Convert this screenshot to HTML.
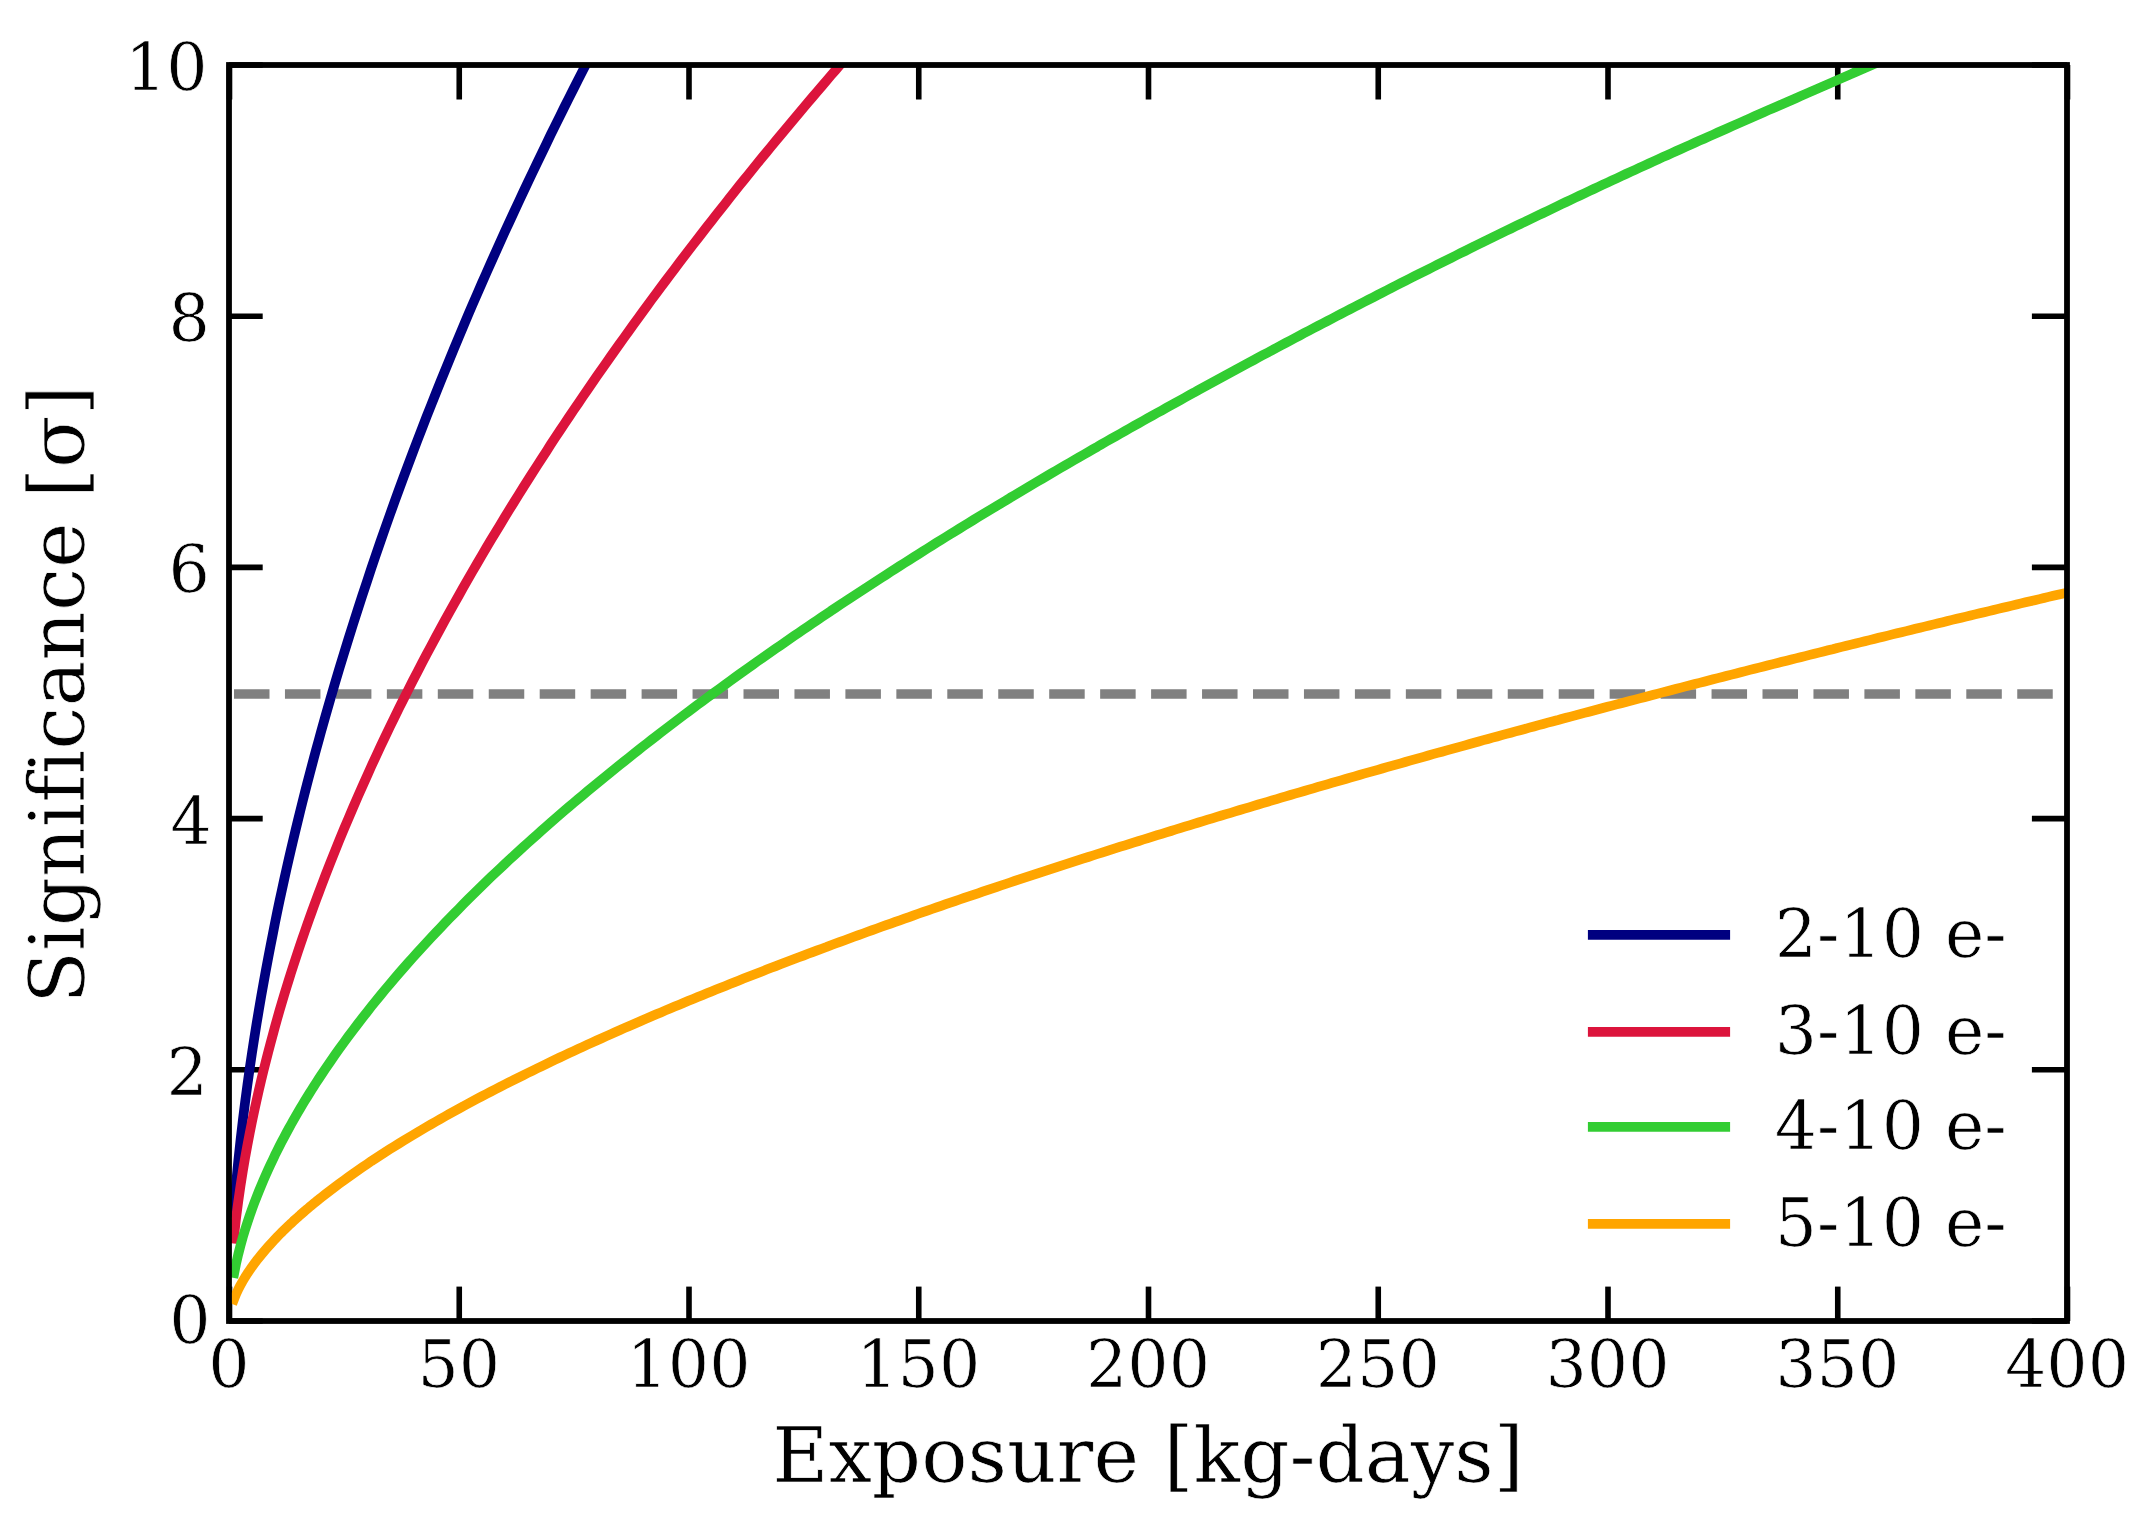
<!DOCTYPE html>
<html lang="en"><head><meta charset="utf-8"><title>Significance vs Exposure</title>
<style>
html,body{margin:0;padding:0;background:#fff;}
body{width:2150px;height:1516px;overflow:hidden;}
svg{display:block;}
text{font-family:"DejaVu Serif","Liberation Serif",serif;fill:#000;font-variant-ligatures:none;font-feature-settings:"liga" 0,"clig" 0;stroke:#fff;stroke-width:0.7px;paint-order:fill stroke;}
.tick{font-size:65.0px;}
.lab{font-size:77.0px;}
.leg{font-size:66.4px;}
</style></head><body>
<svg width="2150" height="1516" viewBox="0 0 2150 1516">
<rect x="0" y="0" width="2150" height="1516" fill="#ffffff"/>
<defs><clipPath id="ax"><rect x="229.0" y="65.0" width="1838.0" height="1256.0"/></clipPath></defs>

<g stroke="#000" stroke-width="5.6" fill="none">
<path d="M229.50,1321.0 V1286.6"/><path d="M229.50,65.0 V99.5"/>
<path d="M459.25,1321.0 V1286.6"/><path d="M459.25,65.0 V99.5"/>
<path d="M689.00,1321.0 V1286.6"/><path d="M689.00,65.0 V99.5"/>
<path d="M918.75,1321.0 V1286.6"/><path d="M918.75,65.0 V99.5"/>
<path d="M1148.50,1321.0 V1286.6"/><path d="M1148.50,65.0 V99.5"/>
<path d="M1378.25,1321.0 V1286.6"/><path d="M1378.25,65.0 V99.5"/>
<path d="M1608.00,1321.0 V1286.6"/><path d="M1608.00,65.0 V99.5"/>
<path d="M1837.75,1321.0 V1286.6"/><path d="M1837.75,65.0 V99.5"/>
<path d="M2067.50,1321.0 V1286.6"/><path d="M2067.50,65.0 V99.5"/>
<path d="M229.0,1321.00 H262.7"/><path d="M2067.0,1321.00 H2031.9"/>
<path d="M229.0,1069.80 H262.7"/><path d="M2067.0,1069.80 H2031.9"/>
<path d="M229.0,818.60 H262.7"/><path d="M2067.0,818.60 H2031.9"/>
<path d="M229.0,567.40 H262.7"/><path d="M2067.0,567.40 H2031.9"/>
<path d="M229.0,316.20 H262.7"/><path d="M2067.0,316.20 H2031.9"/>
<path d="M229.0,65.00 H262.7"/><path d="M2067.0,65.00 H2031.9"/>
</g>
<g clip-path="url(#ax)" fill="none" stroke-linejoin="round">
<path d="M234.00,694.00 L2067.0,694.00" stroke="#808080" stroke-width="9.7" stroke-dasharray="35.5 15.45"/>
<path d="M233.3,1217.9 L235.9,1185.7 L238.2,1161.7 L240.5,1140.2 L242.8,1120.5 L245.1,1102.1 L247.4,1084.9 L249.7,1068.5 L252.0,1052.9 L254.3,1038.0 L256.6,1023.6 L258.9,1009.8 L261.2,996.3 L263.5,983.3 L265.8,970.7 L268.1,958.4 L270.4,946.4 L272.7,934.7 L274.9,923.3 L277.2,912.1 L279.5,901.1 L281.8,890.4 L284.1,879.9 L286.4,869.5 L288.7,859.4 L291.0,849.4 L293.3,839.6 L295.6,830.0 L297.9,820.5 L300.2,811.1 L302.5,801.9 L304.8,792.8 L307.1,783.8 L309.4,775.0 L311.7,766.2 L314.0,757.6 L316.3,749.1 L318.6,740.7 L320.9,732.3 L325.5,715.9 L330.1,699.9 L334.7,684.2 L339.3,668.7 L343.9,653.6 L348.5,638.7 L353.1,624.1 L357.7,609.8 L362.3,595.6 L366.9,581.7 L371.4,568.0 L376.0,554.5 L380.6,541.1 L385.2,528.0 L389.8,515.0 L394.4,502.2 L399.0,489.5 L403.6,477.0 L408.2,464.7 L412.8,452.5 L417.4,440.4 L422.0,428.5 L426.6,416.6 L431.2,405.0 L435.8,393.4 L440.4,381.9 L445.0,370.6 L449.6,359.4 L454.2,348.2 L458.8,337.2 L463.3,326.3 L467.9,315.4 L472.5,304.7 L477.1,294.1 L481.7,283.5 L486.3,273.1 L490.9,262.7 L495.5,252.4 L500.1,242.2 L504.7,232.1 L509.3,222.1 L513.9,212.1 L518.5,202.2 L523.1,192.4 L527.7,182.7 L532.3,173.0 L536.9,163.4 L541.5,153.8 L546.1,144.3 L550.6,134.9 L555.2,125.6 L559.8,116.3 L564.4,107.0 L569.0,97.8 L573.6,88.7 L578.2,79.6 L582.8,70.6 L587.4,61.6 L592.0,52.7 L596.6,43.8 L601.2,35.0 L605.8,26.2 L610.4,17.5 L615.0,8.8 L619.6,0.2 L624.2,-8.4 L628.8,-17.0" stroke="#000080" stroke-width="9.7" stroke-linecap="butt"/>
<path d="M233.3,1243.4 L235.9,1219.5 L238.2,1201.8 L240.5,1185.9 L242.8,1171.3 L245.1,1157.8 L247.4,1145.1 L249.7,1133.1 L252.0,1121.6 L254.3,1110.7 L256.6,1100.2 L258.9,1090.0 L261.2,1080.2 L263.5,1070.7 L265.8,1061.5 L268.1,1052.5 L270.4,1043.8 L272.7,1035.2 L274.9,1026.9 L277.2,1018.7 L279.5,1010.7 L281.8,1002.9 L284.1,995.2 L286.4,987.6 L288.7,980.2 L291.0,972.9 L293.3,965.8 L295.6,958.7 L297.9,951.7 L300.2,944.9 L302.5,938.1 L304.8,931.5 L307.1,924.9 L309.4,918.4 L311.7,912.0 L314.0,905.6 L316.3,899.4 L318.6,893.2 L320.9,887.1 L325.5,875.0 L330.1,863.2 L334.7,851.7 L339.3,840.3 L343.9,829.2 L348.5,818.3 L353.1,807.5 L357.7,796.9 L362.3,786.5 L366.9,776.2 L371.4,766.1 L376.0,756.2 L380.6,746.3 L385.2,736.6 L389.8,727.0 L394.4,717.6 L399.0,708.2 L403.6,699.0 L408.2,689.9 L412.8,680.8 L417.4,671.9 L422.0,663.1 L426.6,654.3 L431.2,645.7 L435.8,637.1 L440.4,628.6 L445.0,620.2 L449.6,611.9 L454.2,603.6 L458.8,595.5 L463.3,587.4 L467.9,579.3 L472.5,571.4 L477.1,563.5 L481.7,555.6 L486.3,547.8 L490.9,540.1 L495.5,532.5 L500.1,524.9 L504.7,517.3 L509.3,509.8 L513.9,502.4 L518.5,495.0 L523.1,487.7 L527.7,480.4 L532.3,473.2 L536.9,466.0 L541.5,458.9 L546.1,451.8 L550.6,444.7 L555.2,437.7 L559.8,430.8 L564.4,423.9 L569.0,417.0 L573.6,410.1 L578.2,403.4 L582.8,396.6 L587.4,389.9 L592.0,383.2 L596.6,376.6 L601.2,370.0 L605.8,363.4 L610.4,356.9 L615.0,350.4 L619.6,343.9 L624.2,337.5 L628.8,331.1 L633.4,324.7 L638.0,318.4 L642.5,312.1 L647.1,305.8 L651.7,299.5 L656.3,293.3 L660.9,287.1 L665.5,281.0 L670.1,274.9 L674.7,268.8 L679.3,262.7 L683.9,256.6 L688.5,250.6 L693.1,244.6 L697.7,238.7 L702.3,232.7 L706.9,226.8 L711.5,220.9 L716.1,215.1 L720.7,209.2 L725.3,203.4 L729.9,197.6 L734.5,191.8 L739.0,186.1 L743.6,180.4 L748.2,174.7 L752.8,169.0 L757.4,163.3 L762.0,157.7 L766.6,152.1 L771.2,146.5 L775.8,140.9 L780.4,135.3 L785.0,129.8 L789.6,124.3 L794.2,118.8 L798.8,113.3 L803.4,107.9 L808.0,102.4 L812.6,97.0 L817.2,91.6 L821.8,86.3 L826.4,80.9 L830.9,75.5 L835.5,70.2 L840.1,64.9 L844.7,59.6 L849.3,54.4 L853.9,49.1 L858.5,43.9 L863.1,38.6 L867.7,33.4 L872.3,28.2 L876.9,23.1 L881.5,17.9 L886.1,12.8 L890.7,7.7 L895.3,2.5 L899.9,-2.5 L904.5,-7.6 L909.1,-12.7" stroke="#dc143c" stroke-width="9.7" stroke-linecap="butt"/>
<path d="M233.3,1277.9 L235.9,1264.5 L238.2,1254.5 L240.5,1245.5 L242.8,1237.2 L245.1,1229.6 L247.4,1222.4 L249.7,1215.6 L252.0,1209.1 L254.3,1202.9 L256.6,1196.9 L258.9,1191.1 L261.2,1185.6 L263.5,1180.2 L265.8,1174.9 L268.1,1169.8 L270.4,1164.8 L272.7,1160.0 L274.9,1155.2 L277.2,1150.6 L279.5,1146.0 L281.8,1141.6 L284.1,1137.2 L286.4,1132.9 L288.7,1128.6 L291.0,1124.5 L293.3,1120.4 L295.6,1116.4 L297.9,1112.4 L300.2,1108.5 L302.5,1104.6 L304.8,1100.8 L307.1,1097.1 L309.4,1093.4 L311.7,1089.7 L314.0,1086.1 L316.3,1082.5 L318.6,1079.0 L320.9,1075.5 L325.5,1068.6 L330.1,1061.9 L334.7,1055.3 L339.3,1048.8 L343.9,1042.5 L348.5,1036.2 L353.1,1030.1 L357.7,1024.0 L362.3,1018.1 L366.9,1012.2 L371.4,1006.4 L376.0,1000.7 L380.6,995.1 L385.2,989.5 L389.8,984.1 L394.4,978.6 L399.0,973.3 L403.6,968.0 L408.2,962.8 L412.8,957.6 L417.4,952.5 L422.0,947.5 L426.6,942.5 L431.2,937.5 L435.8,932.6 L440.4,927.8 L445.0,922.9 L449.6,918.2 L454.2,913.5 L458.8,908.8 L463.3,904.1 L467.9,899.5 L472.5,895.0 L477.1,890.5 L481.7,886.0 L486.3,881.5 L490.9,877.1 L495.5,872.8 L500.1,868.4 L504.7,864.1 L509.3,859.8 L513.9,855.6 L518.5,851.4 L523.1,847.2 L527.7,843.0 L532.3,838.9 L536.9,834.8 L541.5,830.7 L546.1,826.7 L550.6,822.7 L555.2,818.7 L559.8,814.7 L564.4,810.7 L569.0,806.8 L573.6,802.9 L578.2,799.0 L582.8,795.2 L587.4,791.3 L592.0,787.5 L596.6,783.7 L601.2,779.9 L605.8,776.2 L610.4,772.4 L615.0,768.7 L619.6,765.0 L624.2,761.4 L628.8,757.7 L633.4,754.0 L638.0,750.4 L642.5,746.8 L647.1,743.2 L651.7,739.6 L656.3,736.1 L660.9,732.5 L665.5,729.0 L670.1,725.5 L674.7,722.0 L679.3,718.5 L683.9,715.0 L688.5,711.6 L693.1,708.1 L697.7,704.7 L702.3,701.3 L706.9,697.9 L711.5,694.5 L716.1,691.2 L720.7,687.8 L725.3,684.5 L729.9,681.1 L734.5,677.8 L739.0,674.5 L743.6,671.2 L748.2,668.0 L752.8,664.7 L757.4,661.4 L762.0,658.2 L766.6,655.0 L771.2,651.8 L775.8,648.6 L780.4,645.4 L785.0,642.2 L789.6,639.0 L794.2,635.8 L798.8,632.7 L803.4,629.6 L808.0,626.4 L812.6,623.3 L817.2,620.2 L821.8,617.1 L826.4,614.0 L830.9,610.9 L835.5,607.9 L840.1,604.8 L844.7,601.8 L849.3,598.7 L853.9,595.7 L858.5,592.7 L863.1,589.7 L867.7,586.7 L872.3,583.7 L876.9,580.7 L881.5,577.7 L886.1,574.8 L890.7,571.8 L895.3,568.9 L899.9,565.9 L904.5,563.0 L909.1,560.1 L913.7,557.2 L918.2,554.3 L922.8,551.4 L927.4,548.5 L932.0,545.6 L936.6,542.7 L941.2,539.9 L945.8,537.0 L950.4,534.2 L955.0,531.3 L959.6,528.5 L964.2,525.7 L968.8,522.8 L973.4,520.0 L978.0,517.2 L982.6,514.4 L987.2,511.6 L991.8,508.9 L996.4,506.1 L1001.0,503.3 L1005.6,500.6 L1010.1,497.8 L1014.7,495.1 L1019.3,492.3 L1023.9,489.6 L1028.5,486.8 L1033.1,484.1 L1037.7,481.4 L1042.3,478.7 L1046.9,476.0 L1051.5,473.3 L1056.1,470.6 L1060.7,467.9 L1065.3,465.3 L1069.9,462.6 L1074.5,459.9 L1079.1,457.3 L1083.7,454.6 L1088.3,452.0 L1092.9,449.3 L1097.5,446.7 L1102.0,444.0 L1106.6,441.4 L1111.2,438.8 L1115.8,436.2 L1120.4,433.6 L1125.0,431.0 L1129.6,428.4 L1134.2,425.8 L1138.8,423.2 L1143.4,420.6 L1148.0,418.1 L1152.6,415.5 L1157.2,412.9 L1161.8,410.4 L1166.4,407.8 L1171.0,405.3 L1175.6,402.7 L1180.2,400.2 L1184.8,397.6 L1189.4,395.1 L1194.0,392.6 L1198.5,390.0 L1203.1,387.5 L1207.7,385.0 L1212.3,382.5 L1216.9,380.0 L1221.5,377.5 L1226.1,375.0 L1230.7,372.5 L1235.3,370.0 L1239.9,367.5 L1244.5,365.0 L1249.1,362.5 L1253.7,360.1 L1258.3,357.6 L1262.9,355.1 L1267.5,352.7 L1272.1,350.2 L1276.7,347.8 L1281.3,345.3 L1285.8,342.9 L1290.4,340.4 L1295.0,338.0 L1299.6,335.6 L1304.2,333.1 L1308.8,330.7 L1313.4,328.3 L1318.0,325.9 L1322.6,323.5 L1327.2,321.1 L1331.8,318.7 L1336.4,316.3 L1341.0,313.9 L1345.6,311.5 L1350.2,309.1 L1354.8,306.7 L1359.4,304.4 L1364.0,302.0 L1368.6,299.6 L1373.2,297.3 L1377.8,294.9 L1382.3,292.6 L1386.9,290.2 L1391.5,287.9 L1396.1,285.5 L1400.7,283.2 L1405.3,280.9 L1409.9,278.5 L1414.5,276.2 L1419.1,273.9 L1423.7,271.6 L1428.3,269.3 L1432.9,267.0 L1437.5,264.7 L1442.1,262.4 L1446.7,260.1 L1451.3,257.8 L1455.9,255.5 L1460.5,253.2 L1465.1,251.0 L1469.7,248.7 L1474.2,246.4 L1478.8,244.2 L1483.4,241.9 L1488.0,239.7 L1492.6,237.4 L1497.2,235.2 L1501.8,232.9 L1506.4,230.7 L1511.0,228.5 L1515.6,226.2 L1520.2,224.0 L1524.8,221.8 L1529.4,219.6 L1534.0,217.4 L1538.6,215.2 L1543.2,213.0 L1547.8,210.8 L1552.4,208.6 L1557.0,206.4 L1561.5,204.2 L1566.1,202.0 L1570.7,199.8 L1575.3,197.7 L1579.9,195.5 L1584.5,193.3 L1589.1,191.2 L1593.7,189.0 L1598.3,186.9 L1602.9,184.7 L1607.5,182.6 L1612.1,180.4 L1616.7,178.3 L1621.3,176.2 L1625.9,174.0 L1630.5,171.9 L1635.1,169.8 L1639.7,167.7 L1644.3,165.6 L1648.9,163.5 L1653.5,161.4 L1658.0,159.3 L1662.6,157.2 L1667.2,155.2 L1671.8,153.1 L1676.4,151.0 L1681.0,149.0 L1685.6,146.9 L1690.2,144.8 L1694.8,142.8 L1699.4,140.7 L1704.0,138.7 L1708.6,136.6 L1713.2,134.6 L1717.8,132.5 L1722.4,130.5 L1727.0,128.5 L1731.6,126.4 L1736.2,124.4 L1740.8,122.4 L1745.3,120.4 L1749.9,118.3 L1754.5,116.3 L1759.1,114.3 L1763.7,112.3 L1768.3,110.2 L1772.9,108.2 L1777.5,106.2 L1782.1,104.2 L1786.7,102.2 L1791.3,100.2 L1795.9,98.2 L1800.5,96.1 L1805.1,94.1 L1809.7,92.1 L1814.3,90.1 L1818.9,88.1 L1823.5,86.1 L1828.1,84.1 L1832.7,82.1 L1837.2,80.1 L1841.8,78.1 L1846.4,76.1 L1851.0,74.1 L1855.6,72.0 L1860.2,70.0 L1864.8,68.0 L1869.4,66.0 L1874.0,64.0 L1878.6,62.0 L1883.2,60.0 L1887.8,58.1 L1892.4,56.1 L1897.0,54.1 L1901.6,52.1 L1906.2,50.1 L1910.8,48.1 L1915.4,46.1 L1920.0,44.1 L1924.6,42.1 L1929.2,40.2 L1933.7,38.2 L1938.3,36.2 L1942.9,34.2 L1947.5,32.2 L1952.1,30.3 L1956.7,28.3 L1961.3,26.3 L1965.9,24.3 L1970.5,22.4 L1975.1,20.4 L1979.7,18.4 L1984.3,16.5 L1988.9,14.5 L1993.5,12.5 L1998.1,10.6 L2002.7,8.6 L2007.3,6.6 L2011.9,4.7 L2016.5,2.7 L2021.0,0.8 L2025.6,-1.2 L2030.2,-3.2 L2034.8,-5.1 L2039.4,-7.1 L2044.0,-9.0 L2048.6,-11.0" stroke="#32cd32" stroke-width="9.7" stroke-linecap="butt"/>
<path d="M232.2,1304.1 L235.9,1294.5 L238.2,1289.5 L240.5,1285.1 L242.8,1281.0 L245.1,1277.1 L247.4,1273.5 L249.7,1270.1 L252.0,1266.8 L254.3,1263.7 L256.6,1260.6 L258.9,1257.7 L261.2,1254.9 L263.5,1252.1 L265.8,1249.4 L268.1,1246.8 L270.4,1244.2 L272.7,1241.7 L274.9,1239.3 L277.2,1236.9 L279.5,1234.5 L281.8,1232.2 L284.1,1229.9 L286.4,1227.7 L288.7,1225.5 L291.0,1223.4 L293.3,1221.2 L295.6,1219.1 L297.9,1217.1 L300.2,1215.0 L302.5,1213.0 L304.8,1211.0 L307.1,1209.1 L309.4,1207.1 L311.7,1205.2 L314.0,1203.3 L316.3,1201.4 L318.6,1199.6 L320.9,1197.7 L325.5,1194.1 L330.1,1190.6 L334.7,1187.1 L339.3,1183.7 L343.9,1180.3 L348.5,1177.0 L353.1,1173.7 L357.7,1170.5 L362.3,1167.3 L366.9,1164.2 L371.4,1161.1 L376.0,1158.1 L380.6,1155.1 L385.2,1152.1 L389.8,1149.2 L394.4,1146.3 L399.0,1143.5 L403.6,1140.6 L408.2,1137.8 L412.8,1135.1 L417.4,1132.3 L422.0,1129.6 L426.6,1126.9 L431.2,1124.2 L435.8,1121.6 L440.4,1119.0 L445.0,1116.4 L449.6,1113.8 L454.2,1111.3 L458.8,1108.7 L463.3,1106.2 L467.9,1103.8 L472.5,1101.3 L477.1,1098.8 L481.7,1096.4 L486.3,1094.0 L490.9,1091.6 L495.5,1089.2 L500.1,1086.9 L504.7,1084.5 L509.3,1082.2 L513.9,1079.9 L518.5,1077.6 L523.1,1075.3 L527.7,1073.0 L532.3,1070.8 L536.9,1068.5 L541.5,1066.3 L546.1,1064.1 L550.6,1061.9 L555.2,1059.7 L559.8,1057.5 L564.4,1055.4 L569.0,1053.2 L573.6,1051.1 L578.2,1048.9 L582.8,1046.8 L587.4,1044.7 L592.0,1042.6 L596.6,1040.5 L601.2,1038.5 L605.8,1036.4 L610.4,1034.3 L615.0,1032.3 L619.6,1030.3 L624.2,1028.2 L628.8,1026.2 L633.4,1024.2 L638.0,1022.2 L642.5,1020.2 L647.1,1018.3 L651.7,1016.3 L656.3,1014.3 L660.9,1012.4 L665.5,1010.4 L670.1,1008.5 L674.7,1006.6 L679.3,1004.7 L683.9,1002.7 L688.5,1000.8 L693.1,999.0 L697.7,997.1 L702.3,995.2 L706.9,993.3 L711.5,991.4 L716.1,989.6 L720.7,987.7 L725.3,985.9 L729.9,984.1 L734.5,982.2 L739.0,980.4 L743.6,978.6 L748.2,976.8 L752.8,975.0 L757.4,973.2 L762.0,971.4 L766.6,969.6 L771.2,967.8 L775.8,966.1 L780.4,964.3 L785.0,962.5 L789.6,960.8 L794.2,959.0 L798.8,957.3 L803.4,955.6 L808.0,953.8 L812.6,952.1 L817.2,950.4 L821.8,948.7 L826.4,947.0 L830.9,945.2 L835.5,943.5 L840.1,941.9 L844.7,940.2 L849.3,938.5 L853.9,936.8 L858.5,935.1 L863.1,933.5 L867.7,931.8 L872.3,930.1 L876.9,928.5 L881.5,926.8 L886.1,925.2 L890.7,923.6 L895.3,921.9 L899.9,920.3 L904.5,918.7 L909.1,917.1 L913.7,915.4 L918.2,913.8 L922.8,912.2 L927.4,910.6 L932.0,909.0 L936.6,907.4 L941.2,905.8 L945.8,904.2 L950.4,902.7 L955.0,901.1 L959.6,899.5 L964.2,897.9 L968.8,896.4 L973.4,894.8 L978.0,893.3 L982.6,891.7 L987.2,890.1 L991.8,888.6 L996.4,887.1 L1001.0,885.5 L1005.6,884.0 L1010.1,882.5 L1014.7,880.9 L1019.3,879.4 L1023.9,877.9 L1028.5,876.4 L1033.1,874.9 L1037.7,873.3 L1042.3,871.8 L1046.9,870.3 L1051.5,868.8 L1056.1,867.3 L1060.7,865.8 L1065.3,864.4 L1069.9,862.9 L1074.5,861.4 L1079.1,859.9 L1083.7,858.4 L1088.3,857.0 L1092.9,855.5 L1097.5,854.0 L1102.0,852.6 L1106.6,851.1 L1111.2,849.6 L1115.8,848.2 L1120.4,846.7 L1125.0,845.3 L1129.6,843.8 L1134.2,842.4 L1138.8,841.0 L1143.4,839.5 L1148.0,838.1 L1152.6,836.7 L1157.2,835.2 L1161.8,833.8 L1166.4,832.4 L1171.0,831.0 L1175.6,829.5 L1180.2,828.1 L1184.8,826.7 L1189.4,825.3 L1194.0,823.9 L1198.5,822.5 L1203.1,821.1 L1207.7,819.7 L1212.3,818.3 L1216.9,816.9 L1221.5,815.5 L1226.1,814.1 L1230.7,812.8 L1235.3,811.4 L1239.9,810.0 L1244.5,808.6 L1249.1,807.3 L1253.7,805.9 L1258.3,804.5 L1262.9,803.2 L1267.5,801.8 L1272.1,800.4 L1276.7,799.1 L1281.3,797.7 L1285.8,796.4 L1290.4,795.0 L1295.0,793.7 L1299.6,792.3 L1304.2,791.0 L1308.8,789.6 L1313.4,788.3 L1318.0,786.9 L1322.6,785.6 L1327.2,784.3 L1331.8,782.9 L1336.4,781.6 L1341.0,780.3 L1345.6,779.0 L1350.2,777.6 L1354.8,776.3 L1359.4,775.0 L1364.0,773.7 L1368.6,772.4 L1373.2,771.1 L1377.8,769.8 L1382.3,768.5 L1386.9,767.2 L1391.5,765.9 L1396.1,764.6 L1400.7,763.3 L1405.3,762.0 L1409.9,760.7 L1414.5,759.4 L1419.1,758.1 L1423.7,756.8 L1428.3,755.5 L1432.9,754.2 L1437.5,752.9 L1442.1,751.7 L1446.7,750.4 L1451.3,749.1 L1455.9,747.8 L1460.5,746.6 L1465.1,745.3 L1469.7,744.0 L1474.2,742.8 L1478.8,741.5 L1483.4,740.2 L1488.0,739.0 L1492.6,737.7 L1497.2,736.5 L1501.8,735.2 L1506.4,733.9 L1511.0,732.7 L1515.6,731.4 L1520.2,730.2 L1524.8,729.0 L1529.4,727.7 L1534.0,726.5 L1538.6,725.2 L1543.2,724.0 L1547.8,722.7 L1552.4,721.5 L1557.0,720.3 L1561.5,719.0 L1566.1,717.8 L1570.7,716.6 L1575.3,715.4 L1579.9,714.1 L1584.5,712.9 L1589.1,711.7 L1593.7,710.5 L1598.3,709.3 L1602.9,708.0 L1607.5,706.8 L1612.1,705.6 L1616.7,704.4 L1621.3,703.2 L1625.9,702.0 L1630.5,700.8 L1635.1,699.6 L1639.7,698.4 L1644.3,697.2 L1648.9,696.0 L1653.5,694.8 L1658.0,693.6 L1662.6,692.4 L1667.2,691.2 L1671.8,690.0 L1676.4,688.8 L1681.0,687.6 L1685.6,686.4 L1690.2,685.2 L1694.8,684.0 L1699.4,682.9 L1704.0,681.7 L1708.6,680.5 L1713.2,679.3 L1717.8,678.1 L1722.4,677.0 L1727.0,675.8 L1731.6,674.6 L1736.2,673.5 L1740.8,672.3 L1745.3,671.1 L1749.9,669.9 L1754.5,668.8 L1759.1,667.6 L1763.7,666.5 L1768.3,665.3 L1772.9,664.1 L1777.5,663.0 L1782.1,661.8 L1786.7,660.7 L1791.3,659.5 L1795.9,658.4 L1800.5,657.2 L1805.1,656.1 L1809.7,654.9 L1814.3,653.8 L1818.9,652.6 L1823.5,651.5 L1828.1,650.3 L1832.7,649.2 L1837.2,648.0 L1841.8,646.9 L1846.4,645.8 L1851.0,644.6 L1855.6,643.5 L1860.2,642.4 L1864.8,641.2 L1869.4,640.1 L1874.0,639.0 L1878.6,637.8 L1883.2,636.7 L1887.8,635.6 L1892.4,634.4 L1897.0,633.3 L1901.6,632.2 L1906.2,631.1 L1910.8,630.0 L1915.4,628.8 L1920.0,627.7 L1924.6,626.6 L1929.2,625.5 L1933.7,624.4 L1938.3,623.3 L1942.9,622.2 L1947.5,621.0 L1952.1,619.9 L1956.7,618.8 L1961.3,617.7 L1965.9,616.6 L1970.5,615.5 L1975.1,614.4 L1979.7,613.3 L1984.3,612.2 L1988.9,611.1 L1993.5,610.0 L1998.1,608.9 L2002.7,607.8 L2007.3,606.7 L2011.9,605.6 L2016.5,604.5 L2021.0,603.4 L2025.6,602.3 L2030.2,601.3 L2034.8,600.2 L2039.4,599.1 L2044.0,598.0 L2048.6,596.9 L2053.2,595.8 L2057.8,594.7 L2062.4,593.7 L2067.0,592.6" stroke="#ffa500" stroke-width="9.7" stroke-linecap="butt"/>
</g>
<rect x="229.0" y="65.0" width="1838.0" height="1256.0" fill="none" stroke="#000" stroke-width="5.8" stroke-linejoin="miter"/>
<text class="tick" x="229.00" y="1386.8" text-anchor="middle">0</text>
<text class="tick" x="458.75" y="1386.8" text-anchor="middle">50</text>
<text class="tick" x="688.50" y="1386.8" text-anchor="middle">100</text>
<text class="tick" x="918.25" y="1386.8" text-anchor="middle">150</text>
<text class="tick" x="1148.00" y="1386.8" text-anchor="middle">200</text>
<text class="tick" x="1377.75" y="1386.8" text-anchor="middle">250</text>
<text class="tick" x="1607.50" y="1386.8" text-anchor="middle">300</text>
<text class="tick" x="1837.25" y="1386.8" text-anchor="middle">350</text>
<text class="tick" x="2067.00" y="1386.8" text-anchor="middle">400</text>
<text class="tick" x="210.5" y="1343.30" text-anchor="end">0</text>
<text class="tick" x="207.9" y="1094.80" text-anchor="end">2</text>
<text class="tick" x="211.5" y="843.60" text-anchor="end">4</text>
<text class="tick" x="209.8" y="592.40" text-anchor="end">6</text>
<text class="tick" x="209.8" y="341.20" text-anchor="end">8</text>
<text class="tick" x="207.6" y="90.00" text-anchor="end">10</text>
<text class="lab" x="1148.0" y="1481.9" text-anchor="middle">Exposure [kg-days]</text>
<text class="lab" transform="translate(84.2,694.5) rotate(-90)" text-anchor="middle">Significance [σ]</text>
<path d="M1587.9,934.90 H1730.1" stroke="#000080" stroke-width="9.7" fill="none"/>
<text class="leg" x="1774.8" y="957.15">2-10 e-</text>
<path d="M1587.9,1031.80 H1730.1" stroke="#dc143c" stroke-width="9.7" fill="none"/>
<text class="leg" x="1774.8" y="1054.05">3-10 e-</text>
<path d="M1587.9,1126.90 H1730.1" stroke="#32cd32" stroke-width="9.7" fill="none"/>
<text class="leg" x="1774.8" y="1149.15">4-10 e-</text>
<path d="M1587.9,1223.80 H1730.1" stroke="#ffa500" stroke-width="9.7" fill="none"/>
<text class="leg" x="1774.8" y="1246.05">5-10 e-</text>
</svg>
</body></html>
